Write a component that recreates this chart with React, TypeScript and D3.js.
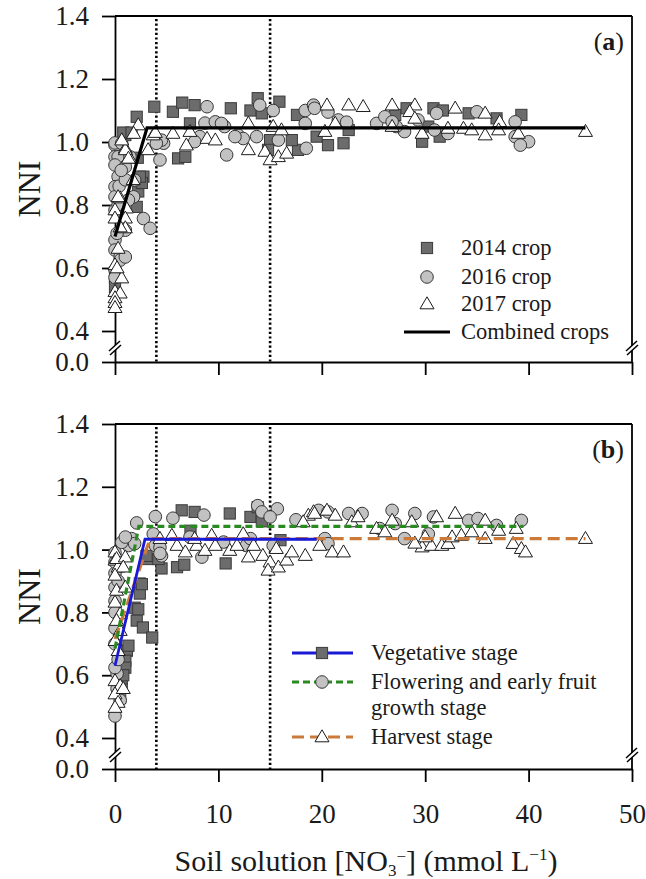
import { useEffect, useRef } from 'react';
import * as d3 from 'd3';

type Pt = [number, number];

// axis ticks and reference lines
const xTicks = [0, 10, 20, 30, 40, 50];
const yTicks = [0, 0.4, 0.6, 0.8, 1.0, 1.2, 1.4];
const refLines = [4, 15];

// panel (a): points by crop year
const crop2014: Pt[] = [
  [3.8, 1.112], [5.6, 1.096], [6.5, 1.125], [7.7, 1.117], [11.2, 1.107], [13.1, 1.1], [13.8, 1.139], [14.2, 1.091],
  [15.9, 1.128], [2.1, 1.08], [1.0, 1.022], [7.25, 1.059], [6.1, 0.948], [6.8, 0.953], [15, 1.006], [14.8, 0.975],
  [17.7, 0.975], [17.1, 1.006], [17.6, 1.086], [19.5, 1.017], [20.6, 0.99], [22.1, 0.996], [22.6, 1.038], [27.1, 1.086],
  [28.2, 1.107], [29.7, 1.001], [30.8, 1.107], [31.7, 1.1], [31.4, 1.017], [34.2, 1.091], [36.9, 1.075], [39.3, 1.086],
  [30.3, 1.049], [2.75, 0.89], [2.25, 0.843], [2.6, 0.87], [2.4, 0.89], [2.1, 0.794], [0, 0.57], [0, 0.54],
  [0.8, 1.03], [1.6, 1.03], [0.3, 0.975], [2.2, 0.95],
];
const crop2016: Pt[] = [
  [8.9, 1.112], [14, 1.117], [15.3, 1.1], [8.7, 1.06], [9.7, 1.064], [10.6, 1.049], [11.9, 1.022], [13.7, 1.017],
  [12.4, 1.011], [10.8, 0.959], [8.2, 1.017], [4.7, 0.996], [4.35, 0.943], [15.8, 1.006], [18.4, 1.1], [19.2, 1.117],
  [18.4, 1.059], [18.5, 0.98], [0, 0.99], [0, 0.953], [7.7, 1.001], [10.3, 1.059], [11.6, 1.017], [4.5, 1.006],
  [19.3, 1.107], [20.6, 1.095], [21.6, 1.07], [22.4, 1.063], [25.3, 1.059], [26.1, 1.08], [28.0, 1.033], [29.3, 1.07],
  [31.1, 1.091], [30.9, 1.038], [32.2, 1.027], [35, 1.096], [38.7, 1.064], [38.7, 1.017], [40, 1.001], [39.2, 0.99],
  [27.2, 1.049], [26.8, 1.064],
  [0, 0.997], [0.3, 0.953], [0, 0.927], [0.3, 0.89], [0, 0.858], [0, 0.826], [0, 0.784], [0.5, 0.775],
  [0, 0.689], [0, 0.657], [0.5, 0.636], [0, 0.594], [1.45, 0.953], [1.9, 0.879], [1.8, 0.826], [2.75, 0.757],
  [3.4, 0.726], [1.0, 0.921], [4.0, 0.996], [1.0, 0.72], [1.3, 0.816], [0.65, 0.996], [0, 0.57], [0.5, 0.625],
  [0.2, 0.71], [1.0, 0.635], [0.3, 0.8], [0.4, 0.86], [1.0, 0.88], [0.6, 0.91],
];
const crop2017: Pt[] = [
  [2.25, 1.054], [1.8, 1.027], [3.7, 1.022], [3.2, 0.975], [5.6, 1.027], [7.25, 1.033], [6.9, 0.99], [8.9, 1.011],
  [9.7, 1.006], [12.9, 1.059], [12.9, 0.975], [15.3, 1.049], [16.1, 1.038], [14.5, 0.97], [15, 0.943], [15.8, 0.953],
  [16.6, 0.964], [1.0, 0.98], [1.45, 0.948],
  [20.5, 1.117], [22.6, 1.117], [24, 1.112], [26.8, 1.117], [29, 1.117], [32.9, 1.107], [35.8, 1.091], [37.2, 1.064],
  [20.3, 1.033], [21.3, 1.059], [26.8, 1.049], [28.5, 1.096], [29.7, 1.027], [32.2, 1.043], [33.7, 1.043], [34.5, 1.038],
  [35.8, 1.022], [37.1, 1.038], [39, 1.027], [45.5, 1.033], [29, 1.075],
  [1.0, 0.975], [0.5, 0.822], [1.1, 0.79], [0, 0.784], [0, 0.758], [1, 0.758], [1, 0.727], [0.3, 0.662],
  [0, 0.61], [0.65, 0.568], [0, 0.525], [0.5, 0.52], [0, 0.505], [0, 0.49], [0, 0.474], [3.9, 1.03],
  [1.3, 0.948], [0.65, 1.006], [1.75, 0.88], [0.3, 0.826], [0.5, 0.73], [0.2, 0.6],
];
const combinedFit: Pt[] = [[0, 0.7], [3.1, 1.045], [45.5, 1.045]];

// panel (b): points by growth stage
const vegetative: Pt[] = [
  [6.45, 1.125], [7.7, 1.12], [11.1, 1.115], [13.1, 1.104], [7.3, 1.06], [4.5, 0.94], [6.0, 0.944], [6.7, 0.952],
  [10.7, 0.956], [3.2, 0.97], [4.2, 0.97], [13.8, 1.135], [14.2, 1.09], [16, 1.03],
  [2.4, 0.892], [2.4, 0.86], [1.9, 0.815], [2.1, 0.774], [2.7, 0.752], [3.6, 0.72], [1.15, 0.678], [1.0, 0.646],
  [1.0, 0.624], [0.65, 0.56], [0.5, 0.528], [0.65, 0.59], [2.6, 0.89], [2.25, 0.81], [1.3, 0.694], [0.8, 0.6],
  [3.05, 0.98],
];
const flowering: Pt[] = [
  [3.9, 1.105], [5.6, 1.1], [8.6, 1.11], [13.8, 1.14], [14.2, 1.12], [15.7, 1.13], [15, 1.104], [17.5, 1.095],
  [2.1, 1.085], [1.6, 1.035], [1.3, 1.013], [1.9, 1.019], [3.9, 1.013], [4.5, 0.98], [3.7, 1.05], [7.25, 1.04],
  [8.4, 0.976], [10.5, 1.024], [12.7, 1.013], [15.3, 1.013], [13.1, 1.035], [0.65, 1.023], [4.35, 1.007], [4.35, 0.988],
  [22.6, 1.115], [23.9, 1.115], [26.8, 1.125], [29, 1.115], [27.1, 1.083], [30.8, 1.104], [34.2, 1.093], [35.1, 1.099],
  [36.9, 1.077], [39.3, 1.093], [28, 1.035], [30.3, 1.05], [20.3, 1.035], [20.6, 1.019], [19.7, 1.125], [25.6, 1.067],
  [20.6, 1.12],
  [0, 0.99], [0, 0.925], [0, 0.88], [0, 0.837], [0, 0.75], [0.2, 0.605], [0.2, 0.557], [0, 0.47],
  [0.5, 0.52], [0, 0.624], [1, 1.04], [0, 0.96], [0.3, 0.9], [0, 0.8], [0, 0.7], [0.3, 0.65],
];
const harvest: Pt[] = [
  [0, 0.992], [0, 0.966], [0.3, 0.944], [6.0, 1.013], [6.8, 0.992], [7.9, 1.013], [8.7, 0.997], [9.7, 1.013],
  [11.1, 0.997], [11.8, 1.013], [13.4, 1.013], [12.9, 0.976], [14.3, 0.981], [15, 0.96], [14.8, 0.934], [15.8, 0.944],
  [16.6, 0.966], [17.1, 0.992], [18.4, 0.981], [15.6, 1.003], [9.35, 1.045], [7.7, 1.035], [12.4, 1.05], [18.7, 1.109],
  [19.2, 1.12], [18.2, 1.088], [5.5, 1.045], [4.35, 1.035],
  [19.3, 1.115], [20.5, 1.125], [21.3, 1.109], [22.9, 1.088], [23.5, 1.104], [25.3, 1.067], [26.8, 1.093], [28.7, 1.088],
  [31.1, 1.104], [32.9, 1.115], [35.8, 1.093], [37.1, 1.061], [38.8, 1.067], [21, 0.992], [22.1, 0.992], [19.8, 1.013],
  [29.7, 1.008], [30.6, 1.013], [31.6, 1.013], [32.2, 1.019], [30, 1.04], [32.6, 1.04], [33.5, 1.045], [35.8, 1.035],
  [34.5, 1.056], [38.5, 1.019], [39.3, 1.003], [39.7, 0.992], [45.5, 1.035], [29, 1.02], [26.1, 1.056],
  [0.15, 0.971], [1, 0.976], [0.8, 0.944], [0, 0.918], [0.15, 0.87], [1, 0.88], [0, 0.832], [0.5, 0.795],
  [0.15, 0.774], [0.5, 0.742], [0, 0.71], [0.3, 0.678], [0, 0.582], [0.5, 0.566], [0, 0.54], [0.3, 0.513],
  [0, 0.497], [0.8, 0.557],
];
const vegetativeFit: Pt[] = [[0, 0.63], [2.9, 1.033], [19.5, 1.033]];
const floweringFit: Pt[] = [[0, 0.685], [2.3, 1.074], [39.5, 1.074]];
const harvestFit: Pt[] = [[0, 0.715], [3.4, 1.035], [45.5, 1.035]];

const legendA = ['2014 crop', '2016 crop', '2017 crop', 'Combined crops'];
const legendB = ['Vegetative stage', 'Flowering and early fruit', 'growth stage', 'Harvest stage'];

const FONT = '"Liberation Serif", "Times New Roman", serif';
const BLUE = '#1a1ad6';
const GREEN = '#2a8a22';
const ORANGE = '#cc7a3a';

type Shape = 'square' | 'circle' | 'triangle';

export default function App() {
  const svgRef = useRef<SVGSVGElement | null>(null);

  useEffect(() => {
    if (!svgRef.current) return;
    document.body.style.margin = '0';
    const svg = d3.select(svgRef.current);
    svg.selectAll('*').remove();

    const x = d3.scaleLinear().domain([0, 50]).range([115, 632]);

    const marker = (g: any, shape: Shape, cx: number, cy: number) => {
      if (shape === 'square') {
        g.append('rect').attr('x', cx - 5.6).attr('y', cy - 5.6).attr('width', 11.2).attr('height', 11.2)
          .attr('fill', '#6c6c6c').attr('stroke', '#3a3a3a').attr('stroke-width', 1);
      } else if (shape === 'circle') {
        g.append('circle').attr('cx', cx).attr('cy', cy).attr('r', 6.3)
          .attr('fill', '#c2c2c2').attr('stroke', '#363636').attr('stroke-width', 1);
      } else {
        g.append('path').attr('d', `M${cx},${cy - 7.2}L${cx + 7},${cy + 4.8}L${cx - 7},${cy + 4.8}Z`)
          .attr('fill', '#fff').attr('stroke', '#1c1c1c').attr('stroke-width', 1);
      }
    };

    const panel = (top: number, bottom: number, tag: string, showX: boolean) => {
      const y = d3.scaleLinear().domain([0, 0.4, 1.4]).range([bottom, bottom - 31, top]);
      const g = svg.append('g');

      // frame
      g.append('line').attr('x1', 115).attr('x2', 632).attr('y1', top).attr('y2', top)
        .attr('stroke', '#000').attr('stroke-width', 1.8);
      g.append('line').attr('x1', 632).attr('x2', 632).attr('y1', top).attr('y2', bottom)
        .attr('stroke', '#000').attr('stroke-width', 1.8);

      // dotted reference lines
      refLines.forEach(v => {
        g.append('line').attr('x1', x(v)).attr('x2', x(v)).attr('y1', top + 3).attr('y2', bottom)
          .attr('stroke', '#000').attr('stroke-width', 2.6).attr('stroke-dasharray', '2.2 2.4');
      });

      const yAxis = d3.axisLeft(y).tickValues(yTicks).tickFormat(d3.format('.1f'))
        .tickSize(13).tickSizeOuter(0).tickPadding(13);
      const xAxis = d3.axisBottom(x).tickValues(xTicks).tickSize(13).tickSizeOuter(0).tickPadding(22)
        .tickFormat(showX ? (d: any) => String(d) : () => '');
      const ya = g.append('g').attr('transform', 'translate(115,0)').call(yAxis);
      const xa = g.append('g').attr('transform', `translate(0,${bottom})`).call(xAxis);
      [ya, xa].forEach(a => {
        a.selectAll('.domain, .tick line').attr('stroke', '#000').attr('stroke-width', 1.8);
        a.selectAll('text').attr('font-family', FONT).attr('font-size', 27).attr('fill', '#1a1a1a');
      });

      // axis breaks
      [115, 632].forEach(bx => {
        const by = bottom - 14;
        g.append('path').attr('d', `M${bx - 6},${by + 3}L${bx + 5},${by - 7}L${bx + 6},${by - 3}L${bx - 5},${by + 7}Z`)
          .attr('fill', '#fff');
        g.append('line').attr('x1', bx - 6).attr('y1', by + 3).attr('x2', bx + 5).attr('y2', by - 7)
          .attr('stroke', '#000').attr('stroke-width', 1.5);
        g.append('line').attr('x1', bx - 5).attr('y1', by + 7).attr('x2', bx + 6).attr('y2', by - 3)
          .attr('stroke', '#000').attr('stroke-width', 1.5);
      });

      // NNI title
      g.append('text').attr('transform', `translate(40,${(top + bottom) / 2}) rotate(-90)`)
        .attr('text-anchor', 'middle').attr('font-family', FONT).attr('font-size', 32).attr('fill', '#1a1a1a')
        .text('NNI');

      // panel tag
      const t = g.append('text').attr('x', 624).attr('y', top + 34).attr('text-anchor', 'end')
        .attr('font-family', FONT).attr('font-size', 26).attr('fill', '#1a1a1a');
      t.append('tspan').text('(');
      t.append('tspan').attr('font-weight', 'bold').text(tag);
      t.append('tspan').text(')');

      return { g, y };
    };

    const lineGen = (y: d3.ScaleLinear<number, number>) =>
      d3.line<Pt>().x(d => x(d[0])).y(d => y(d[1]));

    // ---- panel (a)
    const a = panel(16, 362, 'a', false);
    crop2014.forEach(d => marker(a.g, 'square', x(d[0]), a.y(d[1])));
    crop2016.forEach(d => marker(a.g, 'circle', x(d[0]), a.y(d[1])));
    crop2017.forEach(d => marker(a.g, 'triangle', x(d[0]), a.y(d[1])));
    a.g.append('path').attr('d', lineGen(a.y)(combinedFit)).attr('fill', 'none')
      .attr('stroke', '#000').attr('stroke-width', 3.2);

    const shapesA: Shape[] = ['square', 'circle', 'triangle'];
    const rowsA = [248, 277, 304, 332];
    legendA.forEach((txt, i) => {
      if (i < 3) marker(a.g, shapesA[i], 427, rowsA[i]);
      else a.g.append('line').attr('x1', 404).attr('x2', 450).attr('y1', rowsA[i]).attr('y2', rowsA[i])
        .attr('stroke', '#000').attr('stroke-width', 3.2);
      a.g.append('text').attr('x', 461).attr('y', rowsA[i] + 7).attr('font-family', FONT)
        .attr('font-size', 22.5).attr('fill', '#1a1a1a').text(txt);
    });

    // ---- panel (b)
    const b = panel(424, 769, 'b', true);
    vegetative.forEach(d => marker(b.g, 'square', x(d[0]), b.y(d[1])));
    flowering.forEach(d => marker(b.g, 'circle', x(d[0]), b.y(d[1])));
    harvest.forEach(d => marker(b.g, 'triangle', x(d[0]), b.y(d[1])));
    b.g.append('path').attr('d', lineGen(b.y)(harvestFit)).attr('fill', 'none')
      .attr('stroke', ORANGE).attr('stroke-width', 3.2).attr('stroke-dasharray', '12 6');
    b.g.append('path').attr('d', lineGen(b.y)(floweringFit)).attr('fill', 'none')
      .attr('stroke', GREEN).attr('stroke-width', 3.2).attr('stroke-dasharray', '7 4');
    b.g.append('path').attr('d', lineGen(b.y)(vegetativeFit)).attr('fill', 'none')
      .attr('stroke', BLUE).attr('stroke-width', 2.8);

    const legB = [
      { row: 653, shape: 'square' as Shape, color: BLUE, dash: null as string | null },
      { row: 682, shape: 'circle' as Shape, color: GREEN, dash: '7 4' },
      { row: 737, shape: 'triangle' as Shape, color: ORANGE, dash: '12 6' },
    ];
    legB.forEach(l => {
      const ln = b.g.append('line').attr('x1', 292).attr('x2', 353).attr('y1', l.row).attr('y2', l.row)
        .attr('stroke', l.color).attr('stroke-width', 3);
      if (l.dash) ln.attr('stroke-dasharray', l.dash);
      marker(b.g, l.shape, 322, l.row);
    });
    const rowsB = [653, 682, 708, 737];
    legendB.forEach((txt, i) => {
      b.g.append('text').attr('x', 371).attr('y', rowsB[i] + 7).attr('font-family', FONT)
        .attr('font-size', 22.5).attr('fill', '#1a1a1a').text(txt);
    });

    // x title
    const xt = svg.append('text').attr('x', 366).attr('y', 871).attr('text-anchor', 'middle')
      .attr('font-family', FONT).attr('font-size', 30).attr('fill', '#1a1a1a');
    xt.append('tspan').text('Soil solution [NO');
    xt.append('tspan').attr('font-size', 17).attr('dy', 5).text('3');
    xt.append('tspan').attr('font-size', 17).attr('dy', -14).text('−');
    xt.append('tspan').attr('dy', 9).text('] (mmol L');
    xt.append('tspan').attr('font-size', 17).attr('dy', -11).text('−1');
    xt.append('tspan').attr('dy', 11).text(')');

    return () => { svg.selectAll('*').remove(); };
  }, []);

  return <svg ref={svgRef} width={646} height={879} style={{ display: 'block', background: '#fff' }} />;
}
